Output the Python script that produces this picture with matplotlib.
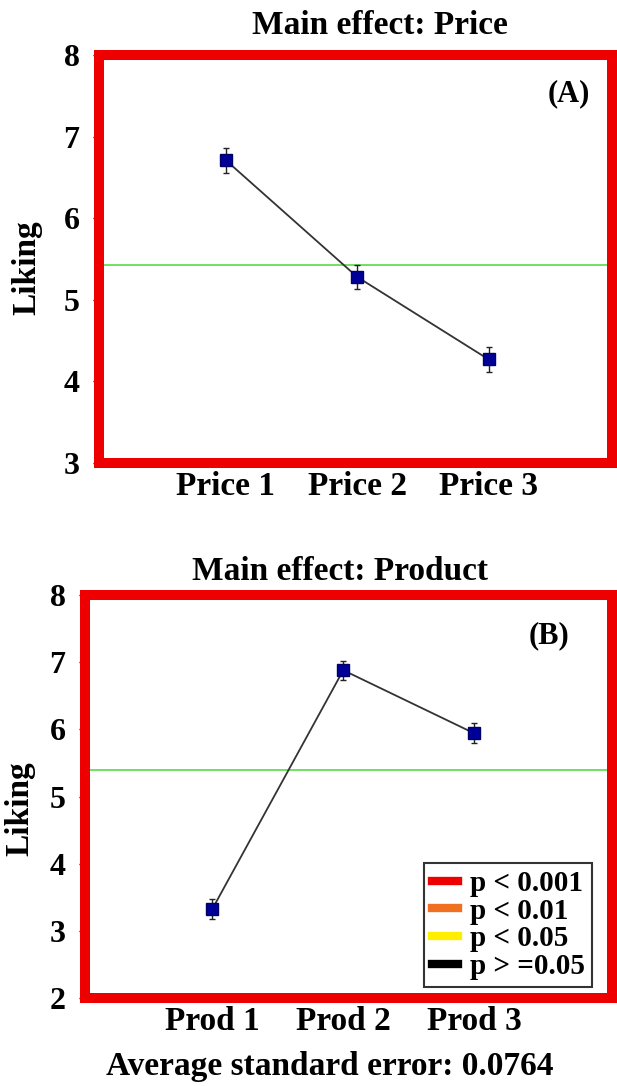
import numpy as np
import matplotlib
matplotlib.use('Agg')
import matplotlib.pyplot as plt
from matplotlib.lines import Line2D

plt.rcParams['font.family'] = 'Liberation Serif'
plt.rcParams['font.weight'] = 'bold'

# datos
price_labels = ['Price 1', 'Price 2', 'Price 3']
price_liking = [6.71, 5.28, 4.27]
price_err = [0.15, 0.15, 0.15]
price_mean = 5.43

prod_labels = ['Prod 1', 'Prod 2', 'Prod 3']
prod_liking = [3.32, 6.88, 5.94]
prod_err = [0.15, 0.14, 0.15]
prod_mean = 5.39

legend_labels = ['p < 0.001', 'p < 0.01', 'p < 0.05', 'p > =0.05']
legend_colors = ['#ee0000', '#f07020', '#ffee00', '#000000']

W, H = 617, 1086
fig = plt.figure(figsize=(W / 100, H / 100), dpi=100)


def box(x0, x1, ytop, ybot):
    # pixeles -> fraccion de la figura
    return [x0 / W, 1 - ybot / H, (x1 - x0) / W, (ybot - ytop) / H]


def panel(ax, labels, vals, errs, mean, xlim, ylim, tag, tagpos):
    x = np.arange(1, len(vals) + 1)
    ax.axhline(mean, color='#66dd55', lw=1.3, zorder=1)
    ax.errorbar(x, vals, yerr=errs, color='#333333', lw=1.3, ecolor='#222222',
                elinewidth=1.0, capsize=2, marker='s', ms=9, mfc='#000099',
                mec='#000066', zorder=3)
    ax.set_xlim(*xlim)
    ax.set_ylim(*ylim)
    ax.set_xticks(x)
    ax.set_xticklabels(labels, fontsize=24, fontweight='bold')
    ax.set_yticks(np.arange(ylim[0], ylim[1] + 1))
    ax.tick_params(axis='y', labelsize=23, length=4, width=1, pad=10)
    ax.tick_params(axis='x', length=3, width=1, pad=3)
    for s in ax.spines.values():
        s.set_color('#ee0000')
        s.set_linewidth(7.2)
    ax.text(tagpos[0], tagpos[1], tag, transform=ax.transAxes, fontsize=22,
            fontweight='bold', ha='center', va='center')


ax1 = fig.add_axes(box(99, 612, 55, 463))
panel(ax1, price_labels, price_liking, price_err, price_mean,
      (0.034, 3.94), (3, 8), '(A)', (0.915, 0.905))

ax2 = fig.add_axes(box(85, 612, 595, 998))
panel(ax2, prod_labels, prod_liking, prod_err, prod_mean,
      (0.03, 4.05), (2, 8), '(B)', (0.88, 0.9))

handles = [Line2D([0], [0], color=c, lw=6) for c in legend_colors]
leg = ax2.legend(handles, legend_labels, loc='lower right',
                 bbox_to_anchor=(0.962, 0.027), borderaxespad=0,
                 prop={'family': 'Liberation Serif', 'weight': 'bold', 'size': 21},
                 handlelength=0.9, handletextpad=0.4, labelspacing=0.02,
                 borderpad=0.25, fancybox=False, framealpha=1)
leg.get_frame().set_edgecolor('#333333')
leg.get_frame().set_linewidth(1.5)

fig.text(380 / W, 1 - 25 / H, 'Main effect: Price', fontsize=24,
         fontweight='bold', ha='center', va='center')
fig.text(340 / W, 1 - 572 / H, 'Main effect: Product', fontsize=24,
         fontweight='bold', ha='center', va='center')
fig.text(27 / W, 1 - 268 / H, 'Liking', fontsize=24, fontweight='bold',
         rotation=90, ha='center', va='center')
fig.text(20 / W, 1 - 809 / H, 'Liking', fontsize=24, fontweight='bold',
         rotation=90, ha='center', va='center')
fig.text(330 / W, 1 - 1067 / H, 'Average standard error: 0.0764', fontsize=24,
         fontweight='bold', ha='center', va='center')

fig.savefig('out.png', dpi=100)
